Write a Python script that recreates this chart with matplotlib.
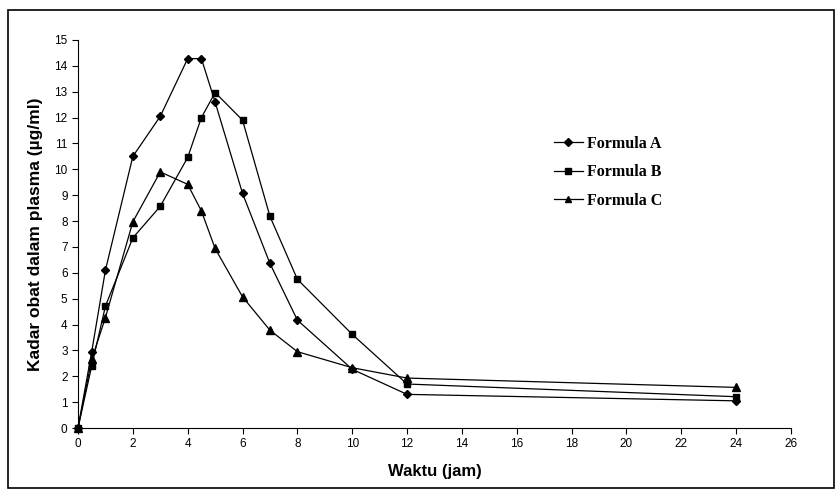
import matplotlib
matplotlib.use("Agg")
import matplotlib.pyplot as plt
from matplotlib.patches import Rectangle

# waktu sampling (jam) dan kadar obat (ug/ml)
waktu = [0, 0.5, 1, 2, 3, 4, 4.5, 5, 6, 7, 8, 10, 12, 24]
formula_a = [0, 2.95, 6.1, 10.5, 12.05, 14.28, 14.28, 12.6, 9.07, 6.36, 4.17, 2.27, 1.3, 1.05]
formula_b = [0, 2.4, 4.71, 7.35, 8.57, 10.46, 12.0, 12.97, 11.9, 8.18, 5.75, 3.62, 1.7, 1.21]
formula_c = [0, 2.65, 4.27, 7.97, 9.9, 9.42, 8.39, 6.94, 5.07, 3.78, 2.95, 2.33, 1.93, 1.57]

x_ticks = list(range(0, 27, 2))
y_ticks = list(range(0, 16))

fig = plt.figure(figsize=(8.4, 4.98), dpi=100)
ax = fig.add_axes([78/840, 1 - 428/498, 713/840, 388/498])

# bingkai luar seperti grafik excel
fig.patches.append(Rectangle((8/840, 1 - 488/498), 826/840, 478/498,
                             transform=fig.transFigure, fill=False,
                             edgecolor="black", linewidth=1.2))

ax.plot(waktu, formula_a, color="black", lw=0.9, marker="D", ms=4.5, label="Formula A")
ax.plot(waktu, formula_b, color="black", lw=0.9, marker="s", ms=4.8, label="Formula B")
ax.plot(waktu, formula_c, color="black", lw=0.9, marker="^", ms=5.5, label="Formula C")

ax.set_xlim(0, 26)
ax.set_ylim(0, 15)
ax.set_xticks(x_ticks)
ax.set_yticks(y_ticks)
ax.spines["top"].set_visible(False)
ax.spines["right"].set_visible(False)
ax.tick_params(direction="out", length=4, width=0.8, labelsize=8.5,
               labelfontfamily="Liberation Sans")
ax.set_xlabel("Waktu (jam)", fontsize=12, fontweight="bold",
              family="Liberation Sans", labelpad=10)
ax.set_ylabel("Kadar obat dalam plasma (\u00b5g/ml)", fontsize=12.5, fontweight="bold",
              family="Liberation Sans", labelpad=8)
for sp in ax.spines.values():
    sp.set_clip_on(False)
for ln in ax.lines:
    ln.set_clip_on(False)

leg = ax.legend(loc="upper left", bbox_to_anchor=(546/840, 1 - 128/498),
                bbox_transform=fig.transFigure, frameon=False, borderpad=0,
                prop={"family": "Liberation Serif", "weight": "bold", "size": 11.5},
                handlelength=1.8, labelspacing=0.78, handletextpad=0.25)
for h in leg.legend_handles:
    h.set_markersize(4)

fig.savefig("out.png", dpi=100)
